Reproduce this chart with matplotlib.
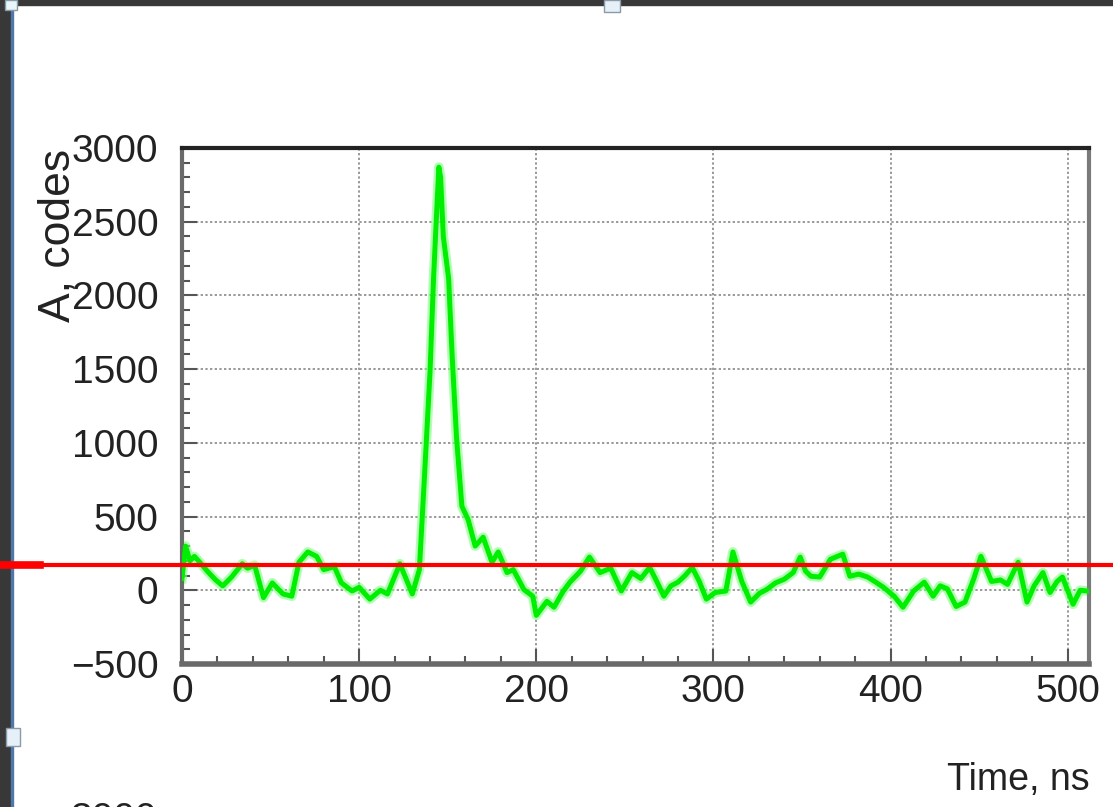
import matplotlib
matplotlib.use("Agg")
import matplotlib.pyplot as plt
import matplotlib.patches as patches
import matplotlib.transforms as mtransforms
from matplotlib.lines import Line2D
from matplotlib.ticker import MultipleLocator

# waveform samples: time (ns) and amplitude (ADC codes)
time_ns = [0, 2, 4.5, 7, 10, 15, 19, 23, 28, 34, 37, 41, 46, 51, 57, 62, 66, 71,
           76, 80, 86, 90, 96, 100, 106, 112, 116, 123, 130, 134, 137, 140, 142,
           143.5, 145, 146, 147.5, 150.5, 152.5, 155, 158, 161.5, 165.5, 170, 175,
           178.5, 183.5, 187, 193, 198, 200, 206, 210, 215, 219, 225, 230, 236,
           242, 248, 254, 259, 264, 268, 272, 276, 280, 284, 288, 292, 296, 301,
           307, 311, 316, 321, 326, 330, 335, 340, 345, 349, 352, 355, 360, 366,
           373, 377, 382, 387, 391, 396, 402, 407, 413, 419, 424, 428, 432, 437,
           442, 447, 451, 457, 462, 466, 472, 477, 481, 486, 490, 494, 497, 503,
           507, 511]
amp_codes = [80, 300, 200, 230, 190, 120, 70, 30, 90, 180, 150, 170, -50, 50, -25,
             -40, 190, 260, 230, 140, 160, 50, -5, 20, -60, 0, -25, 180, -25, 140,
             800, 1480, 2115, 2500, 2870, 2800, 2400, 2115, 1590, 1030, 570, 480,
             300, 360, 190, 260, 120, 140, 5, -40, -170, -75, -115, -10, 55, 130,
             225, 120, 150, -5, 120, 80, 155, 60, -40, 30, 55, 100, 155, 60, -60,
             -15, -5, 260, 60, -80, -20, 5, 50, 75, 120, 225, 130, 95, 90, 210,
             245, 95, 110, 90, 60, 20, -40, -115, -5, 55, -40, 30, 10, -110, -80,
             80, 230, 60, 70, 40, 190, -80, 30, 120, -15, 60, 90, -95, 0, -5]

threshold = 170

x_range = (0, 512)
y_range = (-500, 3000)

W, H = 1113, 807
fig = plt.figure(figsize=(W / 100, H / 100), dpi=100)
fig.patch.set_facecolor("white")
plt.rcParams["font.family"] = ["Liberation Sans", "DejaVu Sans"]

ax = fig.add_axes([182 / W, 1 - 664 / H, (1089 - 182) / W, (664 - 148) / H])
ax.set_xlim(*x_range)
ax.set_ylim(*y_range)

# soft halo under the trace, then the trace itself
ax.plot(time_ns, amp_codes, color="#7dff7d", lw=7, alpha=0.6,
        solid_joinstyle="round", zorder=2)
ax.plot(time_ns, amp_codes, color="#00ee00", lw=3.6, solid_joinstyle="round", zorder=3)

ax.xaxis.set_major_locator(MultipleLocator(100))
ax.xaxis.set_minor_locator(MultipleLocator(20))
ax.yaxis.set_major_locator(MultipleLocator(500))
ax.yaxis.set_minor_locator(MultipleLocator(100))

ax.grid(True, which="major", color="#9a9a9a", linestyle=(0, (1.2, 1.2)), lw=1.4)
ax.tick_params(axis="both", which="both", direction="in", color="#555555",
               labelsize=28, labelcolor="#222222")
ax.tick_params(axis="both", which="major", length=11, width=1.5)
ax.tick_params(axis="both", which="minor", length=6, width=1.5)
ax.tick_params(axis="x", which="major", pad=7)
ax.tick_params(axis="y", which="major", pad=17)

for side, col, w in [("left", "#6a6a6a", 3), ("bottom", "#6a6a6a", 4),
                     ("top", "#222222", 3), ("right", "#7a7a7a", 3)]:
    ax.spines[side].set_color(col)
    ax.spines[side].set_linewidth(w)

fig.text(1090 / W, 1 - 780 / H, "Time, ns", ha="right", va="center",
         fontsize=27, color="#222222")
fig.text(58 / W, 1 - 149 / H, "A, codes", ha="center", va="top", rotation=90,
         fontsize=32, color="#222222")
# label of the panel below, cut by the canvas edge
fig.text(157 / W, 1 - 820 / H, "3000", ha="right", va="center",
         fontsize=28, color="#222222")

# window frame around the canvas
def px_rect(x0, y0, w, h, **kw):
    fig.patches.append(patches.Rectangle((x0 / W, 1 - (y0 + h) / H), w / W, h / H,
                                         transform=fig.transFigure, **kw))

px_rect(0, 0, 11, H, color="#383838", zorder=10)
px_rect(11, 0, 2, H, color="#4f78a8", zorder=10)
px_rect(0, 0, W, 5, color="#383838", zorder=10)
px_rect(5, 0, 12, 10, facecolor="#e6f6fb", edgecolor="#8a9aa6", lw=1, zorder=11)
px_rect(604, 0, 16, 12, facecolor="#e6f0f8", edgecolor="#8a9aa6", lw=1, zorder=11)
px_rect(6, 728, 14, 18, facecolor="#e6f0f8", edgecolor="#8a9aa6", lw=1, zorder=11)

# threshold line runs across the whole canvas, over the frame
trans = mtransforms.blended_transform_factory(fig.transFigure, ax.transData)
fig.lines.append(Line2D([0, 1], [threshold, threshold], transform=trans,
                        color="#ff0000", lw=3, zorder=12))
fig.lines.append(Line2D([0, 40 / W], [threshold, threshold], transform=trans,
                        color="#ff0000", lw=5.5, zorder=12))

fig.savefig("out.png", dpi=100)
